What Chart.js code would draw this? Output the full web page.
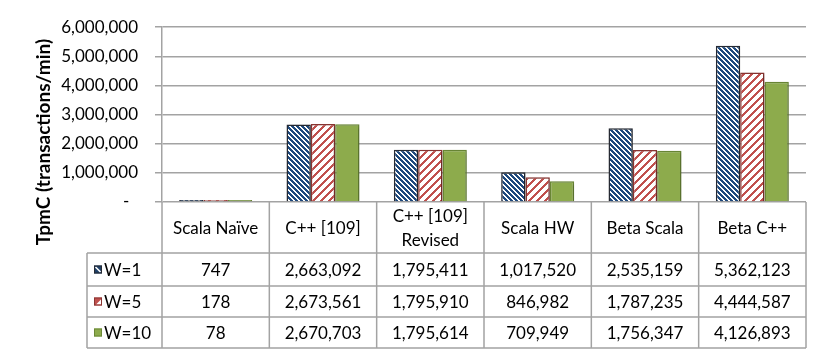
<!DOCTYPE html>
<html>
<head>
<meta charset="utf-8">
<script src="https://cdn.jsdelivr.net/npm/chart.js@4"></script>
<style>
  body { margin: 0; background: #fff; }
  #wrap { width: 830px; height: 358px; position: relative; }
</style>
</head>
<body>
<div id="wrap"><canvas id="tpmc"></canvas></div>
<script>
const categories = ["Scala Naïve", "C++ [109]", "C++ [109]\nRevised", "Scala HW", "Beta Scala", "Beta C++"];
const seriesNames = ["W=1", "W=5", "W=10"];
const w1 = [747, 2663092, 1795411, 1017520, 2535159, 5362123];
const w5 = [178, 2673561, 1795910, 846982, 1787235, 4444587];
const w10 = [78, 2670703, 1795614, 709949, 1756347, 4126893];
const yTicks = [0, 1000000, 2000000, 3000000, 4000000, 5000000, 6000000];

const FONT = "Lato, 'Noto Sans', sans-serif";
const GRID = "#a3a3a3";

// pixel stripe tiles, like Excel's pattern fills
function stripes(period, width, rgb, down) {
  const c = document.createElement("canvas");
  c.width = period; c.height = period;
  const g = c.getContext("2d");
  const img = g.createImageData(period, period);
  for (let y = 0; y < period; y++) {
    for (let x = 0; x < period; x++) {
      const d = down ? ((x - y) % period + period) % period : (x + y) % period;
      const on = d < width;
      const i = (y * period + x) * 4;
      img.data[i] = on ? rgb[0] : 255;
      img.data[i + 1] = on ? rgb[1] : 255;
      img.data[i + 2] = on ? rgb[2] : 255;
      img.data[i + 3] = 255;
    }
  }
  g.putImageData(img, 0, 0);
  return g.createPattern(c, "repeat");
}

const blueFill = stripes(5, 3, [31, 73, 125], true);
const redFill = stripes(8, 3, [192, 80, 77], false);
const fills = [blueFill, redFill, "#8dab4c"];
const borders = ["#262a33", "#8a3532", "#6a8736"];
const seriesData = [w1, w5, w10];

const fmt = (v) => v.toLocaleString("en-US");

const shadow = {
  id: "shadow",
  beforeDatasetsDraw(chart) {
    const ctx = chart.ctx;
    ctx.save();
    ctx.shadowColor = "rgba(0,0,0,0.22)";
    ctx.shadowBlur = 3;
    ctx.shadowOffsetX = 2;
    ctx.shadowOffsetY = 1;
  },
  afterDatasetsDraw(chart) { chart.ctx.restore(); }
};

// small legend keys as Excel shrinks them
function drawKey(ctx, s, x, y) {
  const k = 8;
  if (s === 0) {
    ctx.fillStyle = "#1f3f66";
    ctx.fillRect(x, y, k, k);
    ctx.strokeStyle = "#fff";
    ctx.lineWidth = 1.6;
    ctx.beginPath(); ctx.moveTo(x + 1.5, y + 1.5); ctx.lineTo(x + k - 1.5, y + k - 1.5); ctx.stroke();
  } else if (s === 1) {
    ctx.fillStyle = "#c0504d";
    ctx.fillRect(x, y, k, k);
    ctx.fillStyle = "#fff";
    ctx.beginPath(); ctx.moveTo(x + k - 1, y + 2); ctx.lineTo(x + k - 1, y + k - 1); ctx.lineTo(x + 2, y + k - 1); ctx.fill();
  } else {
    ctx.fillStyle = fills[2];
    ctx.fillRect(x, y, k, k);
  }
  ctx.strokeStyle = borders[s];
  ctx.lineWidth = 1;
  ctx.strokeRect(x + 0.5, y + 0.5, k - 1, k - 1);
}

const dataTable = {
  id: "dataTable",
  afterDraw(chart) {
    const { ctx, chartArea } = chart;
    const n = categories.length;
    const cw = (chartArea.right - chartArea.left) / n;
    const left = chartArea.left, right = chartArea.right;
    const rows = [chartArea.bottom, 253, 286, 317, 348];
    const legLeft = 87;

    ctx.save();
    ctx.strokeStyle = GRID;
    ctx.lineWidth = 1.5;
    ctx.beginPath();
    for (let i = 0; i <= n; i++) {
      const xx = left + i * cw;
      ctx.moveTo(xx, rows[0]); ctx.lineTo(xx, rows[4]);
    }
    for (let r = 1; r < rows.length; r++) {
      ctx.moveTo(legLeft, rows[r]); ctx.lineTo(right, rows[r]);
    }
    ctx.moveTo(legLeft, rows[1]); ctx.lineTo(legLeft, rows[4]);
    ctx.stroke();

    ctx.fillStyle = "#000";
    ctx.font = "17px " + FONT;
    ctx.textAlign = "center";
    ctx.textBaseline = "middle";
    categories.forEach((lab, i) => {
      const cx = left + (i + 0.5) * cw;
      const lines = lab.split("\n");
      if (lines.length === 1) ctx.fillText(lab, cx, 229);
      else { ctx.fillText(lines[0], cx, 217); ctx.fillText(lines[1], cx, 241); }
    });
    seriesData.forEach((vals, s) => {
      const cy = (rows[s + 1] + rows[s + 2]) / 2 + 1;
      ctx.fillStyle = "#000";
      ctx.textAlign = "center";
      vals.forEach((v, i) => ctx.fillText(fmt(v), left + (i + 0.5) * cw, cy));
      drawKey(ctx, s, 94, cy - 5);
      ctx.fillStyle = "#000";
      ctx.textAlign = "left";
      ctx.fillText(seriesNames[s], 104, cy);
    });

    // y axis title
    ctx.translate(44, 142);
    ctx.rotate(-Math.PI / 2);
    ctx.font = "bold 19px " + FONT;
    ctx.textAlign = "center";
    ctx.fillText("TpmC (transactions/min)", 0, 0);
    ctx.restore();
  }
};

new Chart(document.getElementById("tpmc"), {
  type: "bar",
  plugins: [shadow, dataTable],
  data: {
    labels: categories,
    datasets: seriesNames.map((name, s) => ({
      label: name,
      data: seriesData[s],
      backgroundColor: fills[s],
      borderColor: borders[s],
      borderWidth: 1.5,
      minBarLength: 2,
      categoryPercentage: 0.68,
      barPercentage: 1.0,
    })),
  },
  options: {
    responsive: true,
    maintainAspectRatio: false,
    animation: false,
    layout: { padding: { left: 0, right: 24, top: 25, bottom: 156 } },
    plugins: { legend: { display: false }, tooltip: { enabled: false } },
    scales: {
      x: { display: false },
      y: {
        min: 0,
        max: 6000000,
        afterBuildTicks: (scale) => { scale.ticks = yTicks.map((v) => ({ value: v })); },
        afterFit: (scale) => { scale.width = 162; },
        grid: { color: GRID, lineWidth: 1.5, tickLength: 7 },
        border: { color: GRID, width: 1.5 },
        ticks: {
          padding: 17,
          color: "#000",
          font: { family: FONT, size: 17 },
          callback: (v) => (v === 0 ? "-  " : fmt(v)),
        },
      },
    },
  },
});
</script>
</body>
</html>
